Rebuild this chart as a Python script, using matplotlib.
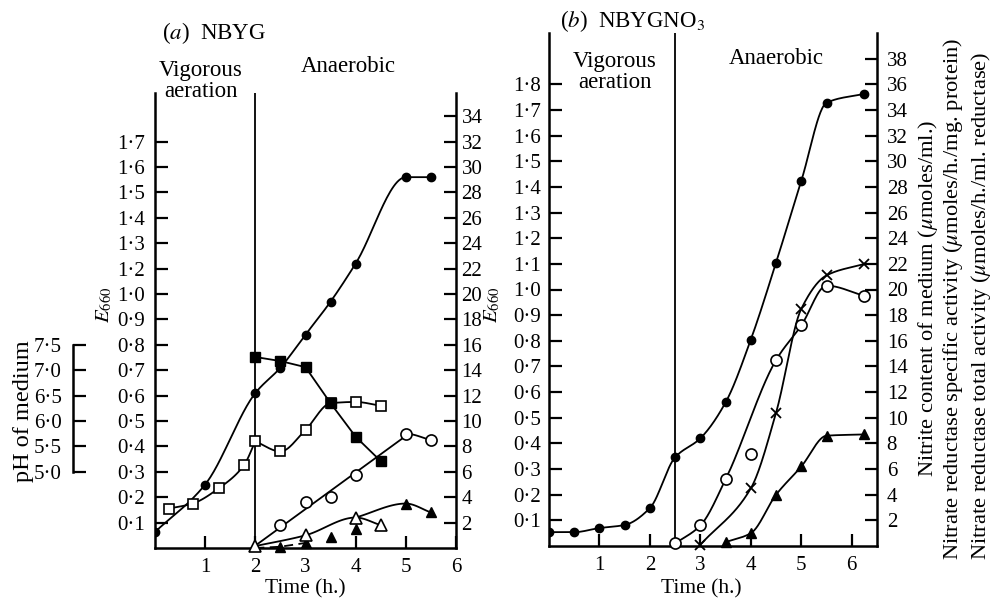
import numpy as np
import matplotlib
matplotlib.use("Agg")
import matplotlib.pyplot as plt

plt.rcParams['font.family'] = ['Liberation Serif', 'DejaVu Serif']
plt.rcParams['mathtext.fontset'] = 'stix'

W, H = 993, 598

# ---- panel (a) NBYG ----
a_t_e660 = [0, 1, 2, 2.5, 3, 3.5, 4, 5, 5.5]
a_e660 = [0.063, 0.25, 0.61, 0.71, 0.84, 0.97, 1.12, 1.46, 1.46]
a_t_ph = [2, 2.5, 3, 3.5, 4, 4.5]
a_ph = [7.26, 7.18, 7.06, 6.35, 5.69, 5.21]
a_t_osq = [0.27, 0.75, 1.27, 1.77, 2.0, 2.5, 3.0, 3.5, 4.0, 4.5]
a_osq = [3.1, 3.5, 4.7, 6.5, 8.4, 7.6, 9.3, 11.4, 11.5, 11.2]
a_t_ocirc = [2.0, 2.5, 3.0, 3.5, 4.0, 5.0, 5.5]
a_ocirc = [0.0, 1.8, 3.6, 4.0, 5.75, 9.0, 8.5]
a_t_otri = [2.0, 3.0, 4.0, 4.5]
a_otri = [0.15, 1.0, 2.4, 1.8]
a_t_ftri = [2.5, 3.0, 3.5, 4.0, 5.0, 5.5]
a_ftri = [0.1, 0.4, 0.9, 1.5, 3.5, 2.8]
a_e_ticks = [0.1, 0.2, 0.3, 0.4, 0.5, 0.6, 0.7, 0.8, 0.9, 1.0, 1.1, 1.2, 1.3, 1.4, 1.5, 1.6]
a_e_labels = ['0·1', '0·2', '0·3', '0·4', '0·5', '0·6', '0·7', '0·8', '0·9', '1·0',
              '1·2', '1·3', '1·4', '1·5', '1·6', '1·7']
a_r_ticks = list(range(2, 35, 2))
ph_ticks = [5.0, 5.5, 6.0, 6.5, 7.0, 7.5]
ph_labels = ['5·0', '5·5', '6·0', '6·5', '7·0', '7·5']

# ---- panel (b) NBYGNO3 ----
b_t_e660 = [0, 0.5, 1, 1.5, 2, 2.5, 3, 3.5, 4, 4.5, 5, 5.5, 6.25]
b_e660 = [0.054, 0.054, 0.07, 0.082, 0.148, 0.346, 0.42, 0.56, 0.805, 1.105, 1.424, 1.728, 1.763]
b_t_ocirc = [2.5, 3, 3.5, 4, 4.5, 5, 5.5, 6.25]
b_ocirc = [0.2, 1.6, 5.2, 7.2, 14.5, 17.2, 20.3, 19.5]
b_ocirc_on_curve = [True, True, True, False, True, True, True, True]
b_t_cross = [3, 4, 4.5, 5, 5.5, 6.25]
b_cross = [0.1, 4.5, 10.4, 18.5, 21.1, 22.0]
b_t_ftri = [3.5, 4, 4.5, 5, 5.5, 6.25]
b_ftri = [0.3, 1.0, 4.0, 6.2, 8.6, 8.7]
b_e_ticks = [round(0.1 * i, 1) for i in range(1, 19)]
b_r_ticks = list(range(2, 39, 2))


def dot(v):
    return ('%.1f' % v).replace('.', '·')


def smooth(x, y, n=30):
    # monotone cubic (pchip-like) curve through the points
    x = np.asarray(x, float)
    y = np.asarray(y, float)
    if len(x) < 3:
        return x, y
    h = np.diff(x)
    d = np.diff(y) / h
    m = np.zeros_like(y)
    m[0] = d[0]
    m[-1] = d[-1]
    for i in range(1, len(x) - 1):
        if d[i - 1] * d[i] <= 0:
            m[i] = 0.0
        else:
            w1 = 2 * h[i] + h[i - 1]
            w2 = h[i] + 2 * h[i - 1]
            m[i] = (w1 + w2) / (w1 / d[i - 1] + w2 / d[i])
    xs, ys = [], []
    t = np.linspace(0, 1, n)
    h00 = 2 * t**3 - 3 * t**2 + 1
    h10 = t**3 - 2 * t**2 + t
    h01 = -2 * t**3 + 3 * t**2
    h11 = t**3 - t**2
    for i in range(len(x) - 1):
        xs.append(x[i] + t * h[i])
        ys.append(h00 * y[i] + h10 * h[i] * m[i] + h01 * y[i + 1] + h11 * h[i] * m[i + 1])
    return np.concatenate(xs), np.concatenate(ys)


def fx(px):
    return px / W


def fy(py):
    return 1 - py / H


LW = 1.3
tick_kw = dict(direction='in', length=9, width=1.6, labelsize=15)

fig = plt.figure(figsize=(W / 100, H / 100), dpi=100)

# ================= panel a =================
ax = fig.add_axes([fx(155), fy(548), (456 - 155) / W, (548 - 93) / H])
a_top = (548 - 93) / 254.0
ax.set_xlim(0, 6)
ax.set_ylim(0, a_top)
axr = ax.twinx()
axr.set_ylim(0, a_top * 20)
axp = ax.twinx()
axp.set_ylim(5 - 0.3 * 5, 5 - 0.3 * 5 + a_top * 5)

for a in (ax, axr, axp):
    a.patch.set_visible(False)
    for s in a.spines.values():
        s.set_linewidth(1.8)
ax.spines['top'].set_visible(False)
ax.spines['right'].set_visible(False)
axr.spines['top'].set_visible(False)
axr.spines['left'].set_visible(False)
axr.spines['bottom'].set_visible(False)
for s in ('top', 'right', 'bottom'):
    axp.spines[s].set_visible(False)
axp.spines['left'].set_position(('axes', (73 - 155) / 301.0))
axp.spines['left'].set_bounds(5.0, 7.5)
axp.yaxis.tick_left()

ax.set_xticks([1, 2, 3, 4, 5, 6])
ax.set_xticklabels(['1', '2', '3', '4', '5', '6'])
ax.set_yticks(a_e_ticks)
ax.set_yticklabels(a_e_labels)
ax.tick_params(axis='x', pad=7, **tick_kw)
ax.tick_params(axis='y', pad=7, **tick_kw)
axr.set_yticks(a_r_ticks)
axr.set_yticklabels([str(v) for v in a_r_ticks])
axr.tick_params(axis='y', pad=4, **tick_kw)
axp.set_yticks(ph_ticks)
axp.set_yticklabels(ph_labels)
axp.tick_params(axis='y', pad=8, **tick_kw)

ax.axvline(2, color='black', lw=1.3)

# E660 (filled circles)
xs, ys = smooth(a_t_e660, a_e660)
ax.plot(xs, ys, color='black', lw=LW)
ax.plot(a_t_e660, a_e660, 'o', color='black', ms=6)

# open squares (two drawn runs split at x = 2)
i2 = a_t_osq.index(2.0)
xs, ys = smooth(a_t_osq[:i2 + 1], a_osq[:i2 + 1])
axr.plot(xs, ys, color='black', lw=LW)
xs, ys = smooth(a_t_osq[i2:], a_osq[i2:])
axr.plot(xs, ys, color='black', lw=LW)
axr.plot(a_t_osq, a_osq, 's', mfc='white', mec='black', mew=1.2, ms=7)

# open circles: straight fit over 2-5 h, then to 5.5 h
fit = np.polyfit(a_t_ocirc[:-1], a_ocirc[:-1], 1)
xl = np.array([a_t_ocirc[0], a_t_ocirc[-2]])
axr.plot(xl, np.polyval(fit, xl), color='black', lw=LW)
xs, ys = smooth(a_t_ocirc[-3:], a_ocirc[-3:])
axr.plot(xs[len(xs) // 2:], ys[len(ys) // 2:], color='black', lw=LW)
axr.plot(a_t_ocirc[1:], a_ocirc[1:], 'o', mfc='white', mec='black', mew=1.2, ms=8)

# filled triangles
axr.plot([a_t_otri[0]] + a_t_ftri[:2], [0] + a_ftri[:2], color='black', lw=LW, ls=(0, (5, 3)))
xs, ys = smooth([a_t_otri[2]] + a_t_ftri[-2:], [a_otri[2]] + a_ftri[-2:])
axr.plot(xs, ys, color='black', lw=LW)
axr.plot(a_t_ftri, a_ftri, '^', color='black', ms=7, clip_on=False)

# open triangles
xs, ys = smooth(a_t_otri, a_otri)
axr.plot(xs, ys, color='black', lw=LW)
axr.plot(a_t_otri, a_otri, '^', mfc='white', mec='black', mew=1.2, ms=8, clip_on=False)

# pH (filled squares)
axp.plot(a_t_ph, a_ph, 's-', color='black', lw=LW, ms=7)

# ================= panel b =================
bx = fig.add_axes([fx(549), fy(546), (877 - 549) / W, (546 - 33) / H])
bx.set_xlim(0, 6.5)
bx.set_ylim(0, 2.0)
bxr = bx.twinx()
bxr.set_ylim(0, 40)
for a in (bx, bxr):
    a.patch.set_visible(False)
    for s in a.spines.values():
        s.set_linewidth(1.8)
bx.spines['top'].set_visible(False)
bx.spines['right'].set_visible(False)
for s in ('top', 'left', 'bottom'):
    bxr.spines[s].set_visible(False)

bx.set_xticks([1, 2, 3, 4, 5, 6])
bx.set_xticklabels(['1', '2', '3', '4', '5', '6'])
bx.set_yticks(b_e_ticks)
bx.set_yticklabels([dot(v) for v in b_e_ticks])
bx.tick_params(axis='x', pad=7, **tick_kw)
bx.tick_params(axis='y', pad=6, **tick_kw)
bxr.set_yticks(b_r_ticks)
bxr.set_yticklabels([str(v) for v in b_r_ticks])
bxr.tick_params(axis='y', pad=7, **tick_kw)

bx.axvline(2.5, color='black', lw=1.3)

xs, ys = smooth(b_t_e660, b_e660)
bx.plot(xs, ys, color='black', lw=LW)
bx.plot(b_t_e660, b_e660, 'o', color='black', ms=6)

cx = [t for t, k in zip(b_t_ocirc, b_ocirc_on_curve) if k]
cy = [v for v, k in zip(b_ocirc, b_ocirc_on_curve) if k]
xs, ys = smooth(cx, cy)
bxr.plot(xs, ys, color='black', lw=LW)

xs, ys = smooth(b_t_cross, b_cross)
bxr.plot(xs, ys, color='black', lw=LW)
bxr.plot(b_t_cross, b_cross, 'x', color='black', ms=7, mew=1.3, clip_on=False)

xs, ys = smooth(b_t_ftri, b_ftri)
bxr.plot(xs, ys, color='black', lw=LW)
bxr.plot(b_t_ftri, b_ftri, '^', color='black', ms=7, clip_on=False)

bxr.plot(b_t_ocirc, b_ocirc, 'o', mfc='white', mec='black', mew=1.2, ms=8, clip_on=False)

# ================= texts =================
fs = 16.5
fig.text(fx(162), fy(33), r'($a$)  NBYG', fontsize=fs, ha='left', va='center')
fig.text(fx(560), fy(21), r'($b$)  NBYGNO$_3$', fontsize=fs, ha='left', va='center')
fig.text(fx(201), fy(81), 'Vigorous\naeration', fontsize=fs, ha='center', va='center',
         linespacing=1.0)
fig.text(fx(348), fy(67), 'Anaerobic', fontsize=fs, ha='center', va='center')
fig.text(fx(615), fy(72), 'Vigorous\naeration', fontsize=fs, ha='center', va='center',
         linespacing=1.0)
fig.text(fx(776), fy(58), 'Anaerobic', fontsize=fs, ha='center', va='center')

fig.text(fx(104), fy(305), r'$E_{660}$', fontsize=15, rotation=90, ha='center', va='center')
fig.text(fx(492), fy(305), r'$E_{660}$', fontsize=15, rotation=90, ha='center', va='center')
fig.text(fx(23), fy(411), 'pH of medium', fontsize=17.5, rotation=90, ha='center', va='center')
fig.text(fx(305), fy(589), 'Time (h.)', fontsize=15.5, ha='center', va='center')
fig.text(fx(701), fy(589), 'Time (h.)', fontsize=15.5, ha='center', va='center')

rfs = 16.2
fig.text(fx(928), fy(477), r'Nitrite content of medium ($\mu$moles/ml.)', fontsize=rfs,
         rotation=90, ha='center', va='bottom')
fig.text(fx(953), fy(560), r'Nitrate reductase specific activity ($\mu$moles/h./mg. protein)',
         fontsize=rfs, rotation=90, ha='center', va='bottom')
fig.text(fx(981), fy(560), r'Nitrate reductase total activity ($\mu$moles/h./ml. reductase)',
         fontsize=rfs, rotation=90, ha='center', va='bottom')

fig.savefig('out.png', dpi=100)
